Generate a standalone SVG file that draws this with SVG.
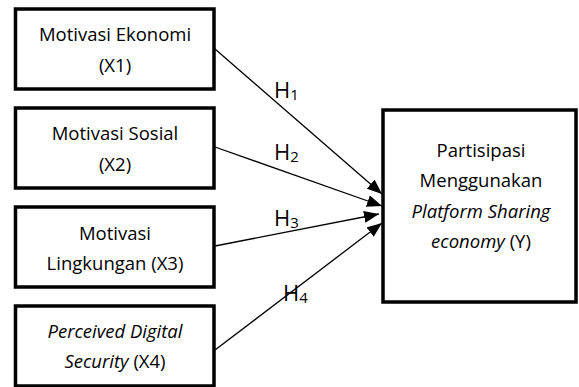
<svg xmlns="http://www.w3.org/2000/svg" width="579" height="387" viewBox="0 0 579 387">
<style>
.box{fill:#fff;stroke:#000;stroke-width:3.5}
.t{font-family:"Open Sans","Liberation Sans",sans-serif;font-size:18.5px;fill:#000;text-anchor:middle}
.h{font-family:"Open Sans","Liberation Sans",sans-serif;font-size:22px;fill:#000}
.sub{font-size:15px}
.ln{stroke:#000;stroke-width:1.3;fill:none;marker-end:url(#ah)}
</style>
<defs>
<marker id="ah" markerUnits="userSpaceOnUse" markerWidth="16" markerHeight="14" refX="15" refY="6" orient="auto">
<path d="M0,0 L15,6 L0,12 Z" fill="#000"/>
</marker>
</defs>
<rect width="579" height="387" fill="#fff"/>
<g id="x1">
<rect class="box" x="15.5" y="9" width="198.5" height="80"/>
<text class="t" x="115" y="41">Motivasi Ekonomi</text>
<text class="t" x="115" y="72">(X1)</text>
</g>
<g id="x2">
<rect class="box" x="15.5" y="108" width="198.5" height="80"/>
<text class="t" x="115" y="140">Motivasi Sosial</text>
<text class="t" x="115" y="171">(X2)</text>
</g>
<g id="x3">
<rect class="box" x="15.5" y="207" width="198.5" height="80"/>
<text class="t" x="115" y="240">Motivasi</text>
<text class="t" x="115" y="270">Lingkungan (X3)</text>
</g>
<g id="x4">
<rect class="box" x="15.5" y="306" width="198.5" height="80"/>
<text class="t" x="115" y="338"><tspan font-style="italic">Perceived Digital</tspan></text>
<text class="t" x="115" y="368"><tspan font-style="italic">Security</tspan> (X4)</text>
</g>
<g id="y">
<rect class="box" x="383" y="110" width="193" height="192"/>
<text class="t" x="481" y="157">Partisipasi</text>
<text class="t" x="481" y="187">Menggunakan</text>
<text class="t" x="481" y="218"><tspan font-style="italic">Platform Sharing</tspan></text>
<text class="t" x="481" y="248"><tspan font-style="italic">economy</tspan> (Y)</text>
</g>
<g id="connectors">
<line class="ln" x1="215" y1="49" x2="382" y2="194"/>
<line class="ln" x1="215" y1="147" x2="382" y2="206"/>
<line class="ln" x1="215" y1="246" x2="379" y2="214"/>
<line class="ln" x1="215" y1="350" x2="382" y2="223"/>
<text class="h" x="274" y="98">H<tspan class="sub" dy="2">1</tspan></text>
<text class="h" x="274" y="160">H<tspan class="sub" dy="2">2</tspan></text>
<text class="h" x="274" y="226">H<tspan class="sub" dy="2">3</tspan></text>
<text class="h" x="283" y="301">H<tspan class="sub" dy="2">4</tspan></text>
</g>
</svg>
